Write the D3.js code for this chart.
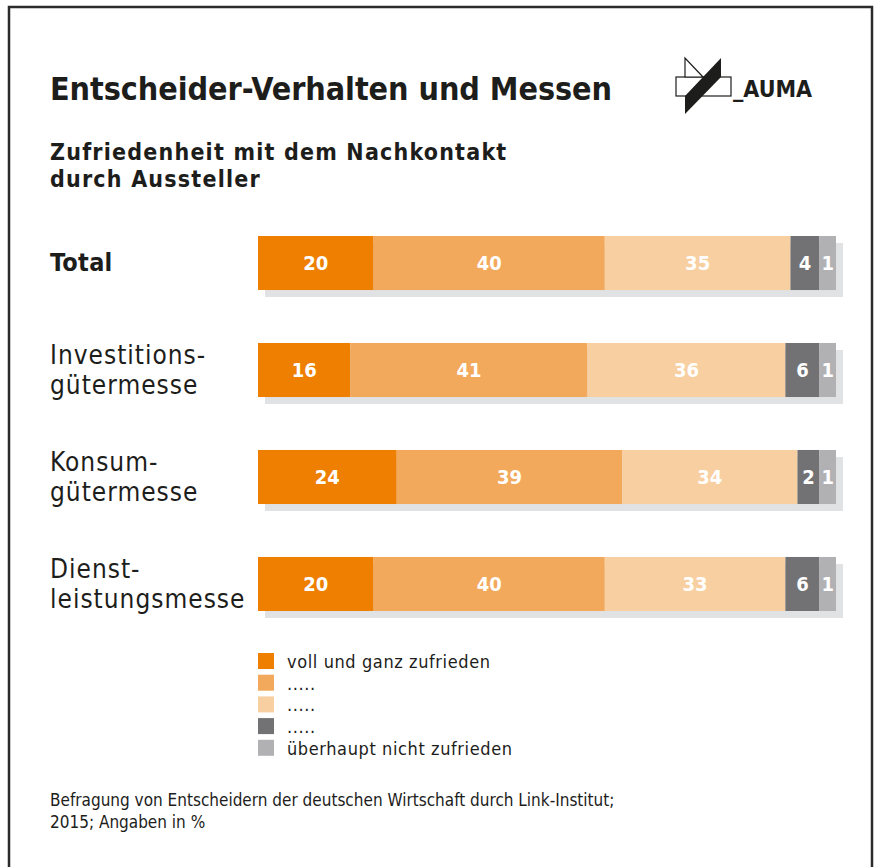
<!DOCTYPE html>
<html>
<head>
<meta charset="utf-8">
<script src="https://cdn.jsdelivr.net/npm/d3@7"></script>
<style>
  body { margin: 0; background: #fff; }
  svg text { font-family: "DejaVu Sans Condensed", "DejaVu Sans", sans-serif; fill: #1d1d1b; }
</style>
</head>
<body>
<div id="chart"></div>
<script>
// ---------------------------------------------- DATA ----------------------------------------------
var categories = [["Total"], ["Investitions-", "gütermesse"], ["Konsum-", "gütermesse"], ["Dienst-", "leistungsmesse"]];
var seriesNames = ["voll und ganz zufrieden", ".....", ".....", ".....", "überhaupt nicht zufrieden"];
var seriesColors = ["#ee7f00", "#f3a95c", "#f8cfa0", "#727274", "#b1b1b4"];
var values = [
  [20, 40, 35, 4, 1],
  [16, 41, 36, 6, 1],
  [24, 39, 34, 2, 1],
  [20, 40, 33, 6, 1]
];
var footnote = ["Befragung von Entscheidern der deutschen Wirtschaft durch Link-Institut;", "2015; Angaben in %"];

// ---------------------------------------------- SVG ----------------------------------------------
var width = 874;
var height = 867;

var svg = d3.select("#chart").append("svg")
    .attr("width", width)
    .attr("height", height);

// frame
svg.append("path")
    .attr("d", "M 9,870 L 9,7 L 872,7 L 872,870")
    .attr("fill", "none")
    .attr("stroke", "#2b2b2b")
    .attr("stroke-width", 2.5);

// titles
svg.append("text")
    .attr("x", 50).attr("y", 100)
    .attr("font-size", 32).attr("font-weight", "bold")
    .attr("textLength", 562).attr("lengthAdjust", "spacing")
    .text("Entscheider-Verhalten und Messen");

svg.append("text")
    .attr("font-size", 23).attr("font-weight", "bold")
    .attr("letter-spacing", 1.2)
    .selectAll("tspan")
    .data(["Zufriedenheit mit dem Nachkontakt", "durch Aussteller"])
    .join("tspan")
    .attr("x", 50)
    .attr("y", function(d, i) { return 160 + i * 27; })
    .text(function(d) { return d; });

// logo
var logo = svg.append("g");
logo.append("rect").attr("x", 676).attr("y", 77).attr("width", 55).attr("height", 19)
    .attr("fill", "#fff").attr("stroke", "#1d1d1b").attr("stroke-width", 1.2);
logo.append("path").attr("d", "M 685,58 L 685,77 L 703,77 Z")
    .attr("fill", "#fff").attr("stroke", "#1d1d1b").attr("stroke-width", 1.2);
logo.append("path").attr("d", "M 721,58 L 721,77 L 685,114 L 685,96 Z")
    .attr("fill", "#1d1d1b");
logo.append("text").attr("x", 733).attr("y", 97)
    .attr("font-size", 23).attr("font-weight", "bold")
    .text("_AUMA");

// scales: large shares proportional, the small right-hand shares on a compressed scale
var x = d3.scaleLinear().domain([0, 100]).range([258, 836]);
var xSmall = d3.scalePow().exponent(0.4).domain([0, 6]).range([0, 34]);
var y = d3.scaleBand().domain(d3.range(categories.length)).range([236, 611]).paddingInner(0.495).paddingOuter(0);

var rows = svg.selectAll("g.row")
    .data(values)
    .join("g")
    .attr("class", "row")
    .attr("transform", function(d, i) { return "translate(0," + y(i) + ")"; });

// shadow
rows.append("rect")
    .attr("x", x(0) + 7)
    .attr("y", 7)
    .attr("width", x(100) - x(0))
    .attr("height", y.bandwidth())
    .attr("fill", "#e1e2e3");

rows.each(function(row) {
    var g = d3.select(this);
    // first two shares from the left, last two from the right, the third fills the gap
    var x1 = x(row[0]);
    var x2 = x(row[0] + row[1]);
    var x5 = x(100) - xSmall(row[4]);
    var x4 = x5 - xSmall(row[3]);
    var edges = [x(0), x1, x2, x4, x5, x(100)];
    var segs = row.map(function(v, j) { return { v: v, j: j, x0: edges[j], x1: edges[j + 1] }; });

    g.selectAll("rect.seg")
        .data(segs)
        .join("rect")
        .attr("class", "seg")
        .attr("x", function(d) { return d.x0; })
        .attr("y", 0)
        .attr("width", function(d) { return d.x1 - d.x0; })
        .attr("height", y.bandwidth())
        .attr("fill", function(d) { return seriesColors[d.j]; });

    g.selectAll("text.val")
        .data(segs)
        .join("text")
        .attr("class", "val")
        .attr("x", function(d) { return (d.x0 + d.x1) / 2; })
        .attr("y", y.bandwidth() / 2 + 7)
        .attr("text-anchor", "middle")
        .attr("font-size", 20)
        .attr("font-weight", "bold")
        .style("fill", "#fff")
        .text(function(d) { return d.v; });
});

// category labels
rows.append("text")
    .attr("font-size", function(d, i) { return i === 0 ? 25 : 26; })
    .attr("letter-spacing", function(d, i) { return i === 0 ? 0.3 : 1.0; })
    .attr("font-weight", function(d, i) { return i === 0 ? "bold" : "normal"; })
    .each(function(d, i) {
        var lines = categories[i];
        var t = d3.select(this);
        var y0 = lines.length === 1 ? 35 : 21;
        lines.forEach(function(l, k) {
            t.append("tspan").attr("x", 50).attr("y", y0 + k * 30).text(l);
        });
    });

// legend
var legend = svg.selectAll("g.legend")
    .data(seriesNames)
    .join("g")
    .attr("class", "legend")
    .attr("transform", function(d, i) { return "translate(258," + (653 + i * 21.7) + ")"; });

legend.append("rect")
    .attr("width", 16).attr("height", 16)
    .attr("fill", function(d, i) { return seriesColors[i]; });

legend.append("text")
    .attr("x", 29).attr("y", 15)
    .attr("font-size", 18)
    .attr("letter-spacing", 0.6)
    .text(function(d) { return d; });

// footnote
svg.append("text")
    .attr("font-size", 17)
    .selectAll("tspan")
    .data(footnote)
    .join("tspan")
    .attr("x", 50)
    .attr("y", function(d, i) { return 806 + i * 22; })
    .text(function(d) { return d; });
</script>
</body>
</html>
